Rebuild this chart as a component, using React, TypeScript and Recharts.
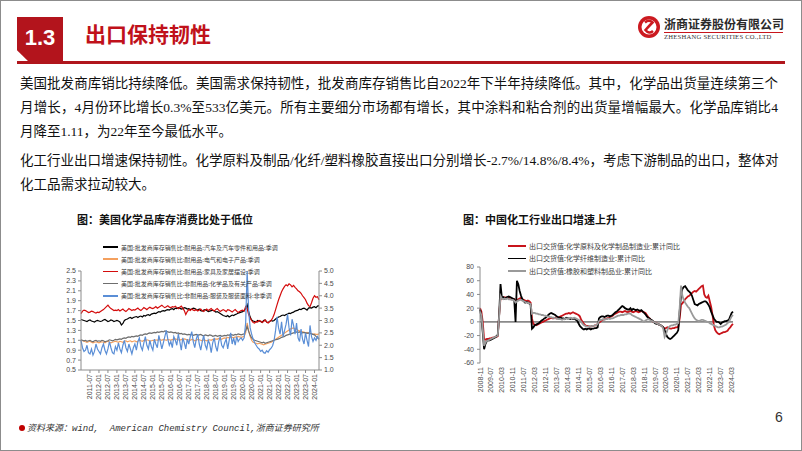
import React from 'react';
import { LineChart, Line, XAxis, YAxis, ReferenceLine } from 'recharts';

// ---------- Left chart: US wholesale inventory/sales ratios, monthly 2011-01 .. 2024-04 ----------
const usMonths: string[] = [];
for (let y = 2011; y <= 2024; y++) {
  for (let m = 1; m <= 12; m++) {
    if (y === 2024 && m > 4) break;
    usMonths.push(`${y}-${String(m).padStart(2, '0')}`);
  }
}
const usTickLabels = ['2011-07','2012-01','2012-07','2013-01','2013-07','2014-01','2014-07','2015-01','2015-07','2016-01','2016-07','2017-01','2017-07','2018-01','2018-07','2019-01','2019-07','2020-01','2020-07','2021-01','2021-07','2022-01','2022-07','2023-01','2023-07','2024-01'];
const usLeftTicks = [0.5, 0.7, 0.9, 1.1, 1.3, 1.5, 1.7, 1.9, 2.1, 2.3, 2.5];
const usRightTicks = [1.0, 1.5, 2.0, 2.5, 3.0, 3.5, 4.0, 4.5, 5.0];

const usAutos = [
  1.52,1.51,1.50,1.49,1.48,1.50,1.51,1.49,1.48,1.47,1.49,1.50,
  1.49,1.48,1.49,1.51,1.52,1.50,1.48,1.49,1.51,1.50,1.48,1.49,
  1.50,1.49,1.47,1.41,1.44,1.50,1.52,1.53,1.55,1.56,1.54,1.56,
  1.57,1.58,1.56,1.58,1.59,1.57,1.60,1.59,1.61,1.62,1.60,1.63,
  1.64,1.65,1.64,1.66,1.68,1.67,1.69,1.70,1.69,1.71,1.72,1.71,
  1.73,1.74,1.72,1.75,1.74,1.76,1.75,1.73,1.74,1.76,1.75,1.73,
  1.74,1.72,1.73,1.75,1.74,1.72,1.71,1.73,1.70,1.69,1.71,1.72,
  1.70,1.68,1.69,1.70,1.71,1.69,1.67,1.68,1.66,1.64,1.62,1.60,
  1.59,1.58,1.60,1.57,1.59,1.61,1.60,1.62,1.63,1.65,1.66,1.67,
  1.68,1.70,1.74,1.82,1.68,1.57,1.51,1.49,1.48,1.47,1.50,1.49,
  1.48,1.46,1.50,1.51,1.47,1.46,1.48,1.50,1.49,1.50,1.53,1.55,
  1.57,1.58,1.60,1.61,1.60,1.62,1.63,1.65,1.64,1.66,1.67,1.69,
  1.70,1.71,1.73,1.72,1.74,1.75,1.73,1.71,1.75,1.76,1.75,1.77,
  1.78,1.76,1.79,1.80,
];
const usElectrical = [
  1.10,1.09,1.08,1.07,1.06,1.07,1.08,1.06,1.05,1.06,1.07,1.06,
  1.05,1.06,1.07,1.06,1.05,1.07,1.08,1.06,1.05,1.06,1.07,1.08,
  1.07,1.06,1.08,1.07,1.06,1.08,1.09,1.07,1.08,1.09,1.07,1.08,
  1.09,1.07,1.08,1.10,1.09,1.08,1.10,1.09,1.11,1.10,1.08,1.09,
  1.10,1.09,1.11,1.10,1.12,1.11,1.10,1.12,1.11,1.10,1.12,1.11,
  1.10,1.12,1.11,1.13,1.12,1.11,1.10,1.12,1.11,1.13,1.12,1.10,
  1.11,1.10,1.12,1.11,1.09,1.10,1.12,1.11,1.10,1.09,1.11,1.10,
  1.09,1.10,1.11,1.10,1.12,1.11,1.13,1.12,1.14,1.13,1.12,1.14,
  1.15,1.14,1.16,1.15,1.17,1.16,1.15,1.17,1.16,1.18,1.17,1.16,
  1.17,1.18,1.25,1.45,1.30,1.18,1.10,1.06,1.05,1.04,1.03,1.04,
  1.03,1.02,1.01,1.02,1.03,1.04,1.05,1.06,1.08,1.10,1.12,1.14,
  1.16,1.18,1.20,1.22,1.25,1.27,1.29,1.31,1.33,1.34,1.35,1.33,
  1.32,1.30,1.29,1.28,1.27,1.26,1.25,1.26,1.24,1.25,1.23,1.22,
  1.23,1.22,1.22,1.23,
];
const usFurniture = [
  1.64,1.69,1.71,1.70,1.68,1.66,1.67,1.69,1.68,1.66,1.65,1.67,
  1.66,1.68,1.70,1.72,1.75,1.78,1.81,1.77,1.74,1.72,1.70,1.71,
  1.70,1.72,1.69,1.71,1.73,1.70,1.68,1.71,1.74,1.72,1.70,1.72,
  1.71,1.73,1.75,1.72,1.70,1.73,1.76,1.74,1.72,1.75,1.77,1.75,
  1.74,1.76,1.78,1.75,1.77,1.79,1.81,1.78,1.76,1.78,1.80,1.77,
  1.76,1.78,1.77,1.79,1.76,1.74,1.77,1.79,1.75,1.70,1.62,1.68,
  1.72,1.70,1.73,1.71,1.70,1.72,1.69,1.71,1.73,1.70,1.68,1.71,
  1.73,1.70,1.72,1.74,1.71,1.69,1.72,1.74,1.71,1.68,1.70,1.72,
  1.70,1.68,1.72,1.71,1.69,1.67,1.70,1.72,1.69,1.66,1.68,1.70,
  1.71,1.69,1.78,1.74,1.62,1.55,1.50,1.46,1.45,1.48,1.47,1.50,
  1.49,1.46,1.48,1.51,1.47,1.45,1.48,1.50,1.55,1.62,1.72,1.82,
  1.92,2.00,2.08,2.14,2.19,2.22,2.20,2.24,2.22,2.18,2.21,2.17,
  2.14,2.10,2.08,2.05,2.00,1.96,1.92,1.85,1.80,1.78,1.86,1.95,
  2.00,1.97,1.98,1.92,
];
const usChemicals = [
  1.11,1.10,1.09,1.10,1.08,1.09,1.10,1.08,1.07,1.09,1.10,1.08,
  1.09,1.08,1.10,1.09,1.07,1.08,1.09,1.11,1.10,1.09,1.10,1.12,
  1.11,1.12,1.13,1.12,1.14,1.15,1.14,1.16,1.17,1.16,1.18,1.17,
  1.18,1.19,1.18,1.20,1.21,1.20,1.22,1.23,1.22,1.24,1.25,1.24,
  1.25,1.26,1.25,1.27,1.26,1.27,1.28,1.27,1.29,1.28,1.27,1.26,
  1.27,1.26,1.25,1.26,1.24,1.25,1.23,1.24,1.22,1.23,1.22,1.21,
  1.22,1.21,1.22,1.20,1.21,1.22,1.20,1.21,1.22,1.20,1.19,1.21,
  1.20,1.19,1.21,1.20,1.18,1.19,1.20,1.18,1.19,1.20,1.18,1.19,
  1.20,1.19,1.21,1.20,1.22,1.21,1.20,1.22,1.21,1.23,1.22,1.21,
  1.22,1.23,1.30,1.38,1.28,1.20,1.15,1.12,1.10,1.09,1.08,1.07,
  1.06,1.05,1.06,1.04,1.05,1.06,1.07,1.08,1.09,1.10,1.11,1.12,
  1.13,1.14,1.16,1.17,1.18,1.20,1.21,1.22,1.23,1.24,1.25,1.26,
  1.27,1.26,1.27,1.26,1.25,1.26,1.25,1.24,1.25,1.24,1.23,1.22,
  1.21,1.18,1.15,1.12,
];
const usApparel = [
  2.20,1.90,1.75,1.80,2.00,1.70,1.65,1.85,1.60,1.75,2.05,1.85,
  1.75,1.65,1.90,2.05,1.80,1.65,1.85,2.15,1.90,1.70,1.65,1.95,
  1.80,2.10,1.85,1.70,2.00,2.20,1.90,1.75,2.05,1.85,1.65,1.90,
  2.05,1.80,2.15,2.30,1.95,1.80,2.10,2.35,2.00,1.85,2.20,1.95,
  1.80,2.25,2.05,1.90,2.40,2.15,1.85,2.10,2.35,2.60,2.25,2.00,
  2.15,1.90,2.35,2.20,2.00,2.45,2.15,1.80,2.30,2.10,1.85,2.25,
  2.05,2.35,2.55,2.15,1.90,2.25,2.45,2.05,1.80,2.15,2.40,2.00,
  1.85,2.20,2.05,1.70,2.10,2.30,1.95,1.75,2.15,2.35,2.00,1.90,
  2.10,2.25,1.85,2.20,2.50,2.05,2.30,2.00,2.35,2.15,2.25,2.30,
  2.20,2.30,2.90,5.00,3.40,2.70,2.45,2.25,2.10,2.00,1.90,1.85,
  1.75,1.80,1.70,1.68,1.78,1.72,1.82,1.88,1.98,2.20,2.60,3.15,
  2.70,2.45,2.95,2.35,2.60,2.85,3.25,2.70,2.40,3.05,2.80,2.45,
  2.90,2.30,2.15,2.65,2.25,2.05,2.50,2.20,1.95,2.80,2.35,2.15,
  2.30,2.20,2.35,2.25,
];
const usNames = [
  '美国:批发商库存销售比:耐用品:汽车及汽车零件和用品:季调',
  '美国:批发商库存销售比:耐用品:电气和电子产品:季调',
  '美国:批发商库存销售比:耐用品:家具及家居摆设:季调',
  '美国:批发商库存销售比:非耐用品:化学品及有关产品:季调',
  '美国:批发商库存销售比:非耐用品:服装及服装面料:非季调',
];
const usKeys = ['autos', 'electrical', 'furniture', 'chemicals', 'apparel'];
const usAxis = ['l', 'l', 'l', 'l', 'r'];
const usColors = ['#000000', '#f4a05e', '#d40c0c', '#6e6e6e', '#5a8ed6'];

const usData = usMonths.map((m, i) => ({
  idx: i, month: m,
  autos: usAutos[i], electrical: usElectrical[i], furniture: usFurniture[i],
  chemicals: usChemicals[i], apparel: usApparel[i],
}));

// ---------- Right chart: China export delivery value, cumulative YoY %, 2008-11 .. 2024-04 ----------
const cnMonths: string[] = [];
for (let y = 2008; y <= 2024; y++) {
  for (let m = 1; m <= 12; m++) {
    if (y === 2008 && m < 11) continue;
    if (y === 2024 && m > 4) break;
    cnMonths.push(`${y}-${String(m).padStart(2, '0')}`);
  }
}
const cnTickLabels = ['2008-11','2009-07','2010-03','2010-11','2011-07','2012-03','2012-11','2013-07','2014-03','2014-11','2015-07','2016-03','2016-11','2017-07','2018-03','2018-11','2019-07','2020-03','2020-11','2021-07','2022-03','2022-11','2023-07','2024-03'];
const cnYTicks = [-60, -40, -20, 0, 20, 40, 60, 80];

const cnChem = [
  20, 15,
  0, -25, -26, -25, -25, -24, -24, -23, -23, -22, -22, -21,
  10, 35, 34, 35, 36, 35, 36, 35, 34, 34, 33, 33,
  30, 32, 33, 34, 35, 33, 32, 31, 30, 31, 30, 28,
  5, -3, -4, -5, -4, -3, -2, -1, 0, 1, 2, 3,
  4, 5, 6, 5, 5, 6, 5, 6, 7, 8, 9, 10,
  11, 12, 12, 13, 12, 13, 14, 13, 12, 11, 10, 8,
  3, 0, -3, -5, -6, -6, -7, -7, -6, -6, -5, -5,
  -3, -1, 0, 2, 3, 4, 4, 5, 6, 7, 8, 9,
  11, 12, 13, 14, 15, 15, 14, 15, 16, 15, 14, 15,
  16, 15, 14, 15, 16, 15, 14, 15, 16, 15, 14, 13,
  10, 7, 5, 3, 1, 0, -1, -2, -3, -4, -5, -6,
  -8, -10, -9, -8, -9, -10, -10, -9, -9, -8, -8, -7,
  5, 25, 27, 30, 33, 35, 37, 38, 40, 42, 44, 45,
  44, 46, 48, 50, 52, 53, 40, 36, 35, 38, 30, 22,
  10, -5, -12, -15, -17, -18, -17, -16, -15, -15, -14, -13,
  -10, -8, -5, -3,
];
const cnFiber = [
  18, 8,
  -15, -40, -32, -28, -27, -27, -26, -25, -24, -23, -21, -19,
  10, 55, 35, 36, 34, 35, 36, 37, 36, 35, 34, 33,
  0, 60, 55, 45, 38, 33, 30, 28, 29, 28, 27, 25,
  -10, -8, -5, -4, -3, -2, 0, 2, 3, 5, 6, 8,
  10, 12, 13, 12, 11, 10, 8, 7, 6, 6, 5, 5,
  4, 6, 5, 5, 4, 5, 4, 5, 3, 2, -2, -6,
  -8, -10, -11, -10, -11, -10, -10, -11, -10, -10, -9, -9,
  -8, 5, 7, 8, 8, 7, 8, 9, 9, 8, 9, 10,
  12, 14, 15, 17, 19, 21, 23, 22, 20, 19, 18, 18,
  20, 17, 19, 18, 17, 18, 17, 16, 17, 15, 13, 11,
  8, 6, 5, 3, 2, 0, -2, -3, -3, -4, -5, -6,
  -8, -12, -18, -22, -24, -25, -24, -22, -20, -18, -16, -12,
  15, 40, 48, 51, 52, 49, 46, 44, 42, 38, 32, 26,
  25, 24, 26, 27, 28, 29, 30, 30, 28, 25, 21, 15,
  10, 5, 2, 0, 0, -1, -3, -1, 0, 1, 1, 2,
  3, 8, 13, 15,
];
const cnRubber = [
  15, 10,
  -10, -35, -30, -28, -27, -26, -25, -24, -23, -22, -21, -20,
  8, 38, 34, 33, 34, 33, 34, 33, 33, 32, 32, 31,
  28, 30, 31, 32, 32, 31, 30, 29, 28, 28, 27, 26,
  12, 13, 13, 12, 12, 11, 11, 10, 10, 9, 9, 8,
  8, 7, 7, 6, 6, 5, 5, 4, 4, 4, 3, 4,
  4, 5, 4, 5, 6, 5, 5, 6, 5, 4, 3, 2,
  0, -3, -5, -6, -7, -7, -6, -7, -6, -6, -5, -5,
  -3, 1, 3, 3, 4, 3, 4, 4, 5, 4, 5, 5,
  6, 7, 8, 9, 9, 10, 10, 10, 11, 11, 12, 12,
  12, 10, 9, 8, 7, 6, 5, 4, 3, 1, 0, 2,
  3, 4, 3, 2, 1, 0, -1, -2, -3, -4, -5, -6,
  -10, -22, -18, -12, -8, -6, -5, -5, -4, -4, -3, -2,
  20, 53, 38, 32, 28, 25, 22, 20, 16, 12, 8, 5,
  3, 2, 1, 2, 3, 3, 2, 1, 0, 0, -2, -3,
  -4, -5, -6, -7, -8, -8, -7, -7, -6, -5, -4, -2,
  0, 4, 8, 10,
];
const cnNames = [
  '出口交货值:化学原料及化学制品制造业:累计同比',
  '出口交货值:化学纤维制造业:累计同比',
  '出口交货值:橡胶和塑料制品业:累计同比',
];
const cnKeys = ['chem', 'fiber', 'rubber'];
const cnColors = ['#c8141b', '#000000', '#9a9a9a'];

const cnData = cnMonths.map((m, i) => ({
  idx: i, month: m, chem: cnChem[i], fiber: cnFiber[i], rubber: cnRubber[i],
}));

// ---------- text ----------
const para1 = [
  '美国批发商库销比持续降低。美国需求保持韧性，批发商库存销售比自2022年下半年持续降低。其中，化学品出货量连续第三个',
  '月增长，4月份环比增长0.3%至533亿美元。所有主要细分市场都有增长，其中涂料和粘合剂的出货量增幅最大。化学品库销比4',
  '月降至1.11，为22年至今最低水平。',
];
const para2 = [
  '化工行业出口增速保持韧性。化学原料及制品/化纤/塑料橡胶直接出口分别增长-2.7%/14.8%/8.4%，考虑下游制品的出口，整体对',
  '化工品需求拉动较大。',
];

const AX = '"Liberation Sans", Arial, sans-serif';
const CJK = '"Noto Sans CJK SC", "Noto Sans", sans-serif';

const VTick = (props: any) => {
  const { x, y, payload, labels } = props;
  return (
    <text x={0} y={0} transform={`translate(${x},${y}) rotate(-90)`} textAnchor="end"
      dominantBaseline="central" fontSize={7} fill="#4a4a4a" fontFamily={AX}>
      {labels[payload.value]}
    </text>
  );
};

function UsChart() {
  const ticks = usTickLabels.map((l) => usMonths.indexOf(l));
  return (
    <LineChart width={320} height={180} data={usData} margin={{ top: 41, right: 0, bottom: 0, left: 0 }}>
      <XAxis type="number" dataKey="idx" domain={[0, usMonths.length - 1]} ticks={ticks} interval={0}
        height={40} tickSize={3} tickMargin={1} stroke="#8c8c8c"
        tick={(p: any) => <VTick {...p} labels={usMonths} />} />
      <YAxis yAxisId="l" domain={[0.5, 2.5]} ticks={usLeftTicks} interval={0} width={41} tickSize={3}
        tickMargin={2} stroke="#8c8c8c" tickFormatter={(v: number) => v.toFixed(1)}
        tick={{ fontSize: 7, fill: '#4a4a4a', fontFamily: AX }} />
      <YAxis yAxisId="r" orientation="right" domain={[1, 5]} ticks={usRightTicks} interval={0} width={41}
        tickSize={3} tickMargin={2} stroke="#8c8c8c" tickFormatter={(v: number) => v.toFixed(1)}
        tick={{ fontSize: 7, fill: '#4a4a4a', fontFamily: AX }} />
      {usKeys.map((k, i) => (
        <Line key={k} yAxisId={usAxis[i]} type="linear" dataKey={k} stroke={usColors[i]} strokeWidth={1.2}
          dot={false} isAnimationActive={false} />
      ))}
    </LineChart>
  );
}

function CnChart() {
  const ticks = cnTickLabels.map((l) => cnMonths.indexOf(l));
  return (
    <LineChart width={310} height={170} data={cnData} margin={{ top: 39, right: 7, bottom: 0, left: 0 }}>
      <XAxis type="number" dataKey="idx" domain={[0, cnMonths.length - 1]} ticks={ticks} interval={0}
        height={35} tickSize={0} tickMargin={4} axisLine={false} tickLine={false}
        tick={(p: any) => <VTick {...p} labels={cnMonths} />} />
      <YAxis domain={[-60, 80]} ticks={cnYTicks} interval={0} width={50} tickSize={3} tickMargin={3}
        stroke="#8c8c8c" tick={{ fontSize: 7, fill: '#4a4a4a', fontFamily: AX }} />
      <ReferenceLine y={0} stroke="#8a8a8a" strokeWidth={1.6} />
      {cnKeys.map((k, i) => (
        <Line key={k} type="linear" dataKey={k} stroke={cnColors[i]} strokeWidth={1.8}
          dot={false} isAnimationActive={false} />
      ))}
    </LineChart>
  );
}

function Legend({ names, colors, left, top, gap, lineW, fontSize }: any) {
  return (
    <>
      {names.map((n: string, i: number) => (
        <div key={n} style={{ position: 'absolute', left, top: top + i * gap - 5, height: 10, display: 'flex', alignItems: 'center', whiteSpace: 'nowrap' }}>
          <div style={{ width: lineW, height: 1.6, background: colors[i], marginRight: 3 }} />
          <span style={{ fontFamily: CJK, fontSize, color: '#3c3c3c' }}>{n}</span>
        </div>
      ))}
    </>
  );
}

export default function App() {
  const bodyFont = '"Liberation Serif", "Noto Sans CJK SC", serif';
  return (
    <div style={{ position: 'absolute', left: 0, top: 0, width: 802, height: 451, background: '#fff', overflow: 'hidden' }}>
      <div style={{ position: 'absolute', inset: 0, border: '1.5px solid #8c8c8c', boxSizing: 'border-box' }} />

      {/* header */}
      <div style={{ position: 'absolute', left: 17, top: 17, width: 46, height: 45, background: '#b3141c',
        clipPath: 'polygon(0 0, 100% 0, 100% 100%, 26% 100%, 0 74%)' }}>
        <div style={{ position: 'absolute', left: 0, top: 8, width: 46, textAlign: 'center', color: '#fff',
          fontFamily: AX, fontWeight: 700, fontSize: 22 }}>1.3</div>
      </div>
      <div style={{ position: 'absolute', left: 85, top: 18, fontFamily: CJK, fontWeight: 700, fontSize: 21, color: '#c0111a', whiteSpace: 'nowrap' }}>出口保持韧性</div>
      <div style={{ position: 'absolute', left: 17, top: 61, width: 768, height: 2.5, background: '#b0151c' }} />

      {/* logo */}
      <svg style={{ position: 'absolute', left: 637, top: 15 }} width={24} height={24} viewBox="0 0 24 24">
        <circle cx={12} cy={12} r={11} fill="#cc1a20" />
        <circle cx={12} cy={12} r={7.5} fill="#fff" />
        <path d="M8 7.5 Q12 4 15.5 7.5 Q12 11 8.5 15 Q12 19.5 16 16" stroke="#cc1a20" strokeWidth={2.6} fill="none" />
      </svg>
      <div style={{ position: 'absolute', left: 664, top: 15, fontFamily: CJK, fontWeight: 700, fontSize: 12, color: '#2a2a2a', whiteSpace: 'nowrap', letterSpacing: 0 }}>浙商证券股份有限公司</div>
      <div style={{ position: 'absolute', left: 664, top: 32, width: 119, height: 1, background: '#c8161d' }} />
      <div style={{ position: 'absolute', left: 664, top: 33, fontFamily: '"Liberation Serif", serif', fontSize: 6.6, letterSpacing: 0.25, color: '#333', whiteSpace: 'nowrap' }}>ZHESHANG SECURITIES CO.,LTD</div>

      {/* body text */}
      {para1.map((t, i) => (
        <div key={'p1' + i} style={{ position: 'absolute', left: 20, top: 74 + i * 24, width: 758, height: 20, lineHeight: '20px',
          fontFamily: bodyFont, fontSize: 13.5, color: '#111', whiteSpace: 'nowrap',
          textAlignLast: i < para1.length - 1 ? 'justify' : 'left', textAlign: 'justify' }}>{t}</div>
      ))}
      {para2.map((t, i) => (
        <div key={'p2' + i} style={{ position: 'absolute', left: 20, top: 151 + i * 24, width: 758, height: 20, lineHeight: '20px',
          fontFamily: bodyFont, fontSize: 13.5, color: '#111', whiteSpace: 'nowrap',
          textAlignLast: i < para2.length - 1 ? 'justify' : 'left', textAlign: 'justify' }}>{t}</div>
      ))}

      {/* chart titles */}
      <div style={{ position: 'absolute', left: 77, top: 211, fontFamily: CJK, fontWeight: 700, fontSize: 11, color: '#111', whiteSpace: 'nowrap' }}>图：美国化学品库存消费比处于低位</div>
      <div style={{ position: 'absolute', left: 463, top: 211, fontFamily: CJK, fontWeight: 700, fontSize: 11, color: '#111', whiteSpace: 'nowrap' }}>图：中国化工行业出口增速上升</div>

      {/* charts */}
      <div style={{ position: 'absolute', left: 40, top: 230 }}><UsChart /></div>
      <div style={{ position: 'absolute', left: 430, top: 228 }}><CnChart /></div>

      <Legend names={usNames} colors={usColors} left={103} top={247} gap={12.2} lineW={15} fontSize={6} />
      <Legend names={cnNames} colors={cnColors} left={508} top={246} gap={12.4} lineW={18} fontSize={7} />

      {/* footer */}
      <div style={{ position: 'absolute', left: 19, top: 425, width: 6, height: 6, borderRadius: 3, background: '#c00000' }} />
      <div style={{ position: 'absolute', left: 27, top: 421, fontSize: 9, fontStyle: 'italic', color: '#333', whiteSpace: 'pre', fontFamily: CJK }}>
        资料来源：<span style={{ fontFamily: '"Liberation Mono", monospace' }}>wind,  American Chemistry Council,</span>浙商证券研究所
      </div>
      <div style={{ position: 'absolute', left: 775, top: 409, fontSize: 14, fontFamily: AX, color: '#333' }}>6</div>
    </div>
  );
}
